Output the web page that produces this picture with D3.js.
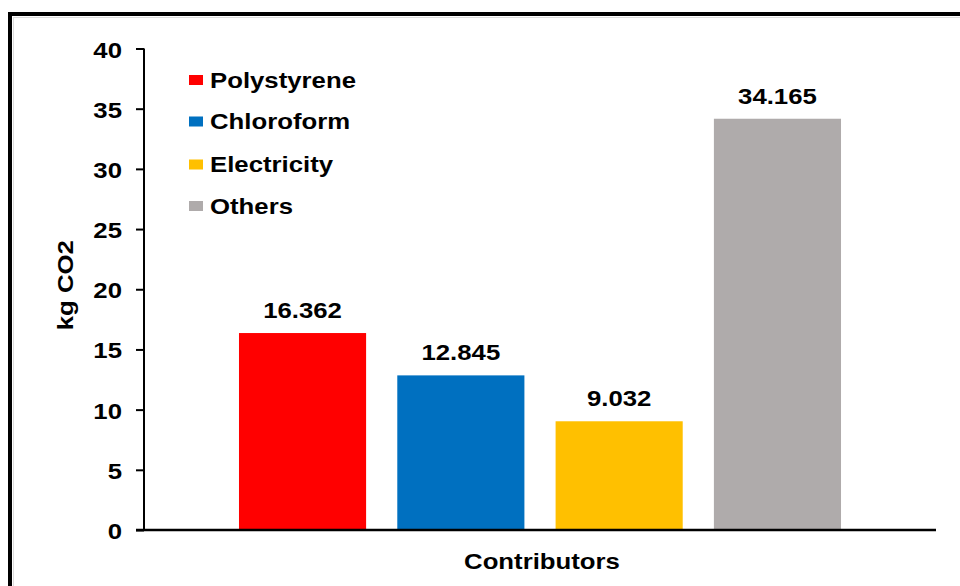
<!DOCTYPE html>
<html>
<head>
<meta charset="utf-8">
<script src="https://cdn.jsdelivr.net/npm/d3@7"></script>
<style>
  html, body { margin: 0; padding: 0; background: #fff; }
  svg { display: block; }
  text { font-family: "Liberation Sans", Arial, sans-serif; font-weight: bold; fill: #000; }
</style>
</head>
<body>
<svg id="chart" width="960" height="586"></svg>
<script>
// Contributors to the carbon footprint (kg CO2)
const contributors = ["Polystyrene", "Chloroform", "Electricity", "Others"];
const emissions = [16.362, 12.845, 9.032, 34.165];
const barColors = ["#FF0000", "#0070C0", "#FFC000", "#AFABAB"];
const yTicks = [0, 5, 10, 15, 20, 25, 30, 35, 40];
const yTitle = "kg CO2";
const xTitle = "Contributors";

const svg = d3.select("#chart");
const plot = { left: 144, right: 936, top: 48.5, bottom: 530 };
const sx = 1.12; // horizontal stretch applied to all labels
const fs = 23;   // label font size

// outer frame with a faint inner line
svg.append("rect").attr("x", 13.5).attr("y", 17.5).attr("width", 1000).attr("height", 1000)
  .attr("fill", "none").attr("stroke", "#dcdcdc").attr("stroke-width", 1);
svg.append("rect").attr("x", 10).attr("y", 14).attr("width", 1000).attr("height", 1000)
  .attr("fill", "none").attr("stroke", "#000").attr("stroke-width", 4);

const y = d3.scaleLinear().domain([0, 40]).range([plot.bottom, plot.top]);
const x = d3.scaleBand().domain(contributors).range([plot.left, plot.right])
  .paddingInner(0.197).paddingOuter(0.6);

function label(g, txt, px, py, size, anchor, rotate) {
  return g.append("text")
    .attr("transform", `translate(${px},${py})` + (rotate ? ` rotate(${rotate})` : "") + ` scale(${sx},1)`)
    .attr("text-anchor", anchor)
    .style("font-size", size + "px")
    .text(txt);
}

// bars
svg.append("g").selectAll("rect").data(contributors).join("rect")
  .attr("x", d => x(d))
  .attr("width", x.bandwidth())
  .attr("y", (d, i) => y(emissions[i]))
  .attr("height", (d, i) => y(0) - y(emissions[i]))
  .attr("fill", (d, i) => barColors[i]);

// value labels
const vals = svg.append("g");
contributors.forEach((d, i) => {
  label(vals, emissions[i].toFixed(3), x(d) + x.bandwidth() / 2, y(emissions[i]) - 15, fs, "middle");
});

// y axis
const yAxis = d3.axisLeft(y).tickValues(yTicks).tickSize(8).tickPadding(0).tickFormat(d3.format("d"));
const ya = svg.append("g").attr("transform", `translate(${plot.left},0)`).call(yAxis);
ya.select(".domain").attr("stroke", "#000").attr("stroke-width", 2).attr("d", `M0,${plot.top}V${plot.bottom}`);
ya.selectAll(".tick line").attr("stroke", "#000").attr("stroke-width", 2);
ya.selectAll(".tick text").remove();
ya.selectAll(".tick").each(function(d) {
  label(d3.select(this), d3.format("d")(d), -22, 8.5, fs, "end");
});

// x axis baseline
svg.append("line").attr("x1", plot.left - 8).attr("x2", plot.right)
  .attr("y1", y(0)).attr("y2", y(0)).attr("stroke", "#000").attr("stroke-width", 2.5);

// axis titles
label(svg, yTitle, 73, (plot.top + plot.bottom) / 2 - 4, fs, "middle", -90);
label(svg, xTitle, 542, 569, fs, "middle");

// legend
const leg = svg.append("g");
const legRowY = [80, 121.5, 164.5, 206];
contributors.forEach((d, i) => {
  leg.append("rect").attr("x", 189).attr("y", legRowY[i] - 5).attr("width", 14).attr("height", 10)
    .attr("fill", barColors[i]);
  label(leg, d, 210, legRowY[i] + 7.5, fs, "start");
});
</script>
</body>
</html>
